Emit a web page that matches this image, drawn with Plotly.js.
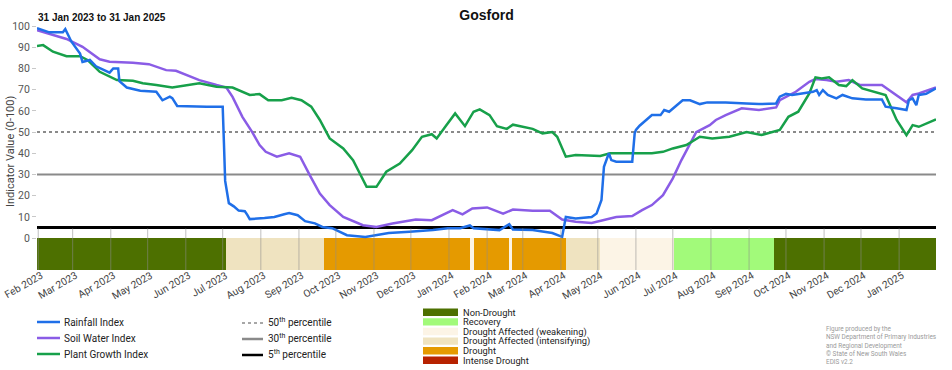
<!DOCTYPE html>
<html>
<head>
<meta charset="utf-8">
<script src="https://cdn.plot.ly/plotly-3.0.1.min.js"></script>
<style>html,body{margin:0;padding:0;background:#fff;}#chart{width:952px;height:370px;}</style>
</head>
<body>
<div id="chart"></div>
<script>
// ---------- DATA ----------
const tickDates = ['2023-02-01','2023-03-01','2023-04-01','2023-05-01','2023-06-01','2023-07-01','2023-08-01','2023-09-01','2023-10-01','2023-11-01','2023-12-01','2024-01-01','2024-02-01','2024-03-01','2024-04-01','2024-05-01','2024-06-01','2024-07-01','2024-08-01','2024-09-01','2024-10-01','2024-11-01','2024-12-01','2025-01-01'];
const tickLabels = ['Feb 2023','Mar 2023','Apr 2023','May 2023','Jun 2023','Jul 2023','Aug 2023','Sep 2023','Oct 2023','Nov 2023','Dec 2023','Jan 2024','Feb 2024','Mar 2024','Apr 2024','May 2024','Jun 2024','Jul 2024','Aug 2024','Sep 2024','Oct 2024','Nov 2024','Dec 2024','Jan 2025'];

const rainDates = ['2023-01-31','2023-02-10','2023-02-21','2023-02-23','2023-02-28','2023-03-07','2023-03-09','2023-03-15','2023-03-20','2023-03-31','2023-04-03','2023-04-07','2023-04-08','2023-04-14','2023-04-25','2023-05-08','2023-05-13','2023-05-19','2023-05-21','2023-05-25','2023-06-18','2023-07-01','2023-07-02','2023-07-03','2023-07-06','2023-07-10','2023-07-14','2023-07-19','2023-07-21','2023-07-23','2023-08-04','2023-08-12','2023-08-20','2023-08-24','2023-08-31','2023-09-03','2023-09-06','2023-09-14','2023-09-20','2023-09-28','2023-10-10','2023-10-25','2023-11-03','2023-11-13','2023-11-30','2023-12-19','2023-12-31','2024-01-10','2024-01-18','2024-01-21','2024-02-11','2024-02-19','2024-02-22','2024-03-09','2024-03-25','2024-04-02','2024-04-05','2024-04-13','2024-04-26','2024-04-30','2024-05-04','2024-05-06','2024-05-10','2024-05-12','2024-05-16','2024-05-29','2024-05-31','2024-06-01','2024-06-04','2024-06-14','2024-06-21','2024-06-24','2024-06-28','2024-07-09','2024-07-15','2024-07-23','2024-07-29','2024-08-13','2024-08-30','2024-09-09','2024-09-23','2024-09-26','2024-10-01','2024-10-06','2024-10-14','2024-10-23','2024-10-26','2024-10-28','2024-10-31','2024-11-04','2024-11-11','2024-11-16','2024-11-24','2024-12-05','2024-12-18','2024-12-21','2024-12-30','2025-01-07','2025-01-09','2025-01-12','2025-01-15','2025-01-17','2025-01-23','2025-01-31'];
const rainValues = [99,97,97,98.5,92.6,87,83,84,81,78,80,80,74,71,69.5,69,65,66.7,66,62.3,62,62,45,27,16.5,15,13,12.7,11,9,9.5,10,11.3,11.8,10.8,9.4,8,7,5.3,4.7,1.4,0.6,1.4,2.4,3,3.8,4.7,4.7,6,4.7,3.8,6.6,4.1,3.8,2.4,0.6,10,9.3,10,11.6,18,33.6,40,36.8,36,36,49.4,51,53,58,58,60.4,59.6,65,65,63.2,64,64,63.5,63.2,63.5,66.7,68,67.5,68.2,69,69.8,67.5,69.8,67.5,65.9,67.5,65.9,65.4,65.4,62,61.2,60.4,65,65.9,62.7,67.5,68,70.6];

const soilDates = ['2023-01-31','2023-02-24','2023-03-09','2023-03-23','2023-03-31','2023-04-19','2023-05-02','2023-05-16','2023-05-24','2023-06-12','2023-06-26','2023-07-04','2023-07-09','2023-07-17','2023-07-25','2023-07-31','2023-08-05','2023-08-14','2023-08-24','2023-09-02','2023-09-10','2023-09-18','2023-09-26','2023-10-07','2023-10-23','2023-11-03','2023-11-16','2023-12-05','2023-12-18','2024-01-04','2024-01-12','2024-01-20','2024-02-01','2024-02-14','2024-02-22','2024-03-09','2024-03-23','2024-04-02','2024-04-13','2024-04-26','2024-05-16','2024-05-29','2024-06-06','2024-06-14','2024-06-23','2024-07-01','2024-07-08','2024-07-20','2024-07-31','2024-08-05','2024-08-13','2024-08-26','2024-09-09','2024-09-23','2024-09-26','2024-10-01','2024-10-09','2024-10-20','2024-10-25','2024-11-03','2024-11-11','2024-11-21','2024-11-30','2024-12-18','2024-12-30','2025-01-07','2025-01-12','2025-01-17','2025-01-31'];
const soilValues = [98,93.9,90.2,84.3,83.2,82.7,82,79.2,78.9,74.5,72.2,71,66.6,57.2,50,43.9,40.7,38.4,40,38.4,29.5,21,15.6,10,6.1,5.3,6.9,8.8,8.5,13.2,11.2,14,14.5,11.6,13.5,12.9,12.9,8.8,7.7,7.2,10,10.4,13.2,15.6,20.3,28.2,36.8,50,53.3,55.7,58,61.2,60.4,61.6,65,66.6,69,73.7,75,74.5,73.7,74.5,72.2,72.2,67.5,64,67.5,68.2,71];

const plantDates = ['2023-01-31','2023-02-05','2023-02-13','2023-02-24','2023-03-07','2023-03-13','2023-03-23','2023-03-31','2023-04-06','2023-04-19','2023-04-27','2023-05-08','2023-05-21','2023-06-12','2023-06-26','2023-07-09','2023-07-23','2023-07-31','2023-08-07','2023-08-18','2023-08-26','2023-09-03','2023-09-11','2023-09-18','2023-09-26','2023-10-07','2023-10-15','2023-10-26','2023-11-03','2023-11-11','2023-11-22','2023-12-02','2023-12-10','2023-12-18','2023-12-22','2023-12-30','2024-01-06','2024-01-14','2024-01-21','2024-01-26','2024-02-03','2024-02-09','2024-02-17','2024-02-22','2024-03-09','2024-03-17','2024-03-25','2024-03-29','2024-04-05','2024-04-13','2024-05-03','2024-05-11','2024-05-29','2024-06-04','2024-06-14','2024-06-23','2024-07-01','2024-07-12','2024-07-23','2024-08-02','2024-08-16','2024-08-30','2024-09-11','2024-09-26','2024-10-03','2024-10-11','2024-10-20','2024-10-25','2024-10-30','2024-11-05','2024-11-13','2024-11-19','2024-11-24','2024-12-02','2024-12-18','2024-12-21','2024-12-30','2025-01-07','2025-01-12','2025-01-17','2025-01-31'];
const plantValues = [90.6,91,87.9,85.8,85.8,84,78.4,76,74.5,74.2,73,72.2,71,73,71.4,71,67.5,67.9,65,65,66.2,65,62,55.7,47,42.3,36.8,24.2,24.2,31.3,35.2,41.5,47.8,49,47,53.3,58.8,52.8,59.6,60.7,58,52.8,51.5,53.5,51.5,49.4,50,47.8,38.4,39.2,38.7,40,40,40,40,40.7,42.3,43.9,47.8,47,47.8,50,48.6,51,57.2,59.6,68.2,75.8,75.3,75.8,72.2,71.7,74.5,70.6,67.9,67.5,55.7,48.6,53.3,52.5,56];

const statusStart = ['2023-01-31','2023-07-04','2023-09-21','2024-01-18','2024-01-21','2024-02-19','2024-02-21','2024-04-05','2024-05-03','2024-07-02','2024-09-21'];
const statusEnd   = ['2023-07-04','2023-09-21','2024-01-18','2024-01-21','2024-02-19','2024-02-21','2024-04-05','2024-05-03','2024-07-02','2024-09-21','2025-01-31'];
const statusCat   = ['Non-Drought','Drought Affected (intensifying)','Drought','Drought Affected (weakening)','Drought','Drought Affected (weakening)','Drought','Drought Affected (intensifying)','Drought Affected (weakening)','Recovery','Non-Drought'];

const categoryNames = ['Non-Drought','Recovery','Drought Affected (weakening)','Drought Affected (intensifying)','Drought','Intense Drought'];
const percentileValues = [50,30,5];

// ---------- STYLE ----------
const catColors = {
  'Non-Drought':'#4d7000',
  'Recovery':'#a2fa7a',
  'Drought Affected (weakening)':'#fcf4e6',
  'Drought Affected (intensifying)':'#efe3c0',
  'Drought':'#e59a00',
  'Intense Drought':'#b72200'
};
const BLUE='#1f6fe8', PURPLE='#8a5ce6', GREEN='#17a04a';
const W=952,H=370,L=37,R=16,T=26,B=100;
const PW=W-L-R, PH=H-T-B;
const px=(x)=>(x-L)/PW, py=(y)=>(H-B-y)/PH;
const FONT='Roboto, "Liberation Sans", Arial, sans-serif';
const HFONT='"Liberation Sans", Arial, sans-serif';

const BAR_BASE=-15;
const mids=statusStart.map((s,i)=>(Date.parse(s)+Date.parse(statusEnd[i]))/2);
const widths=statusStart.map((s,i)=>Date.parse(statusEnd[i])-Date.parse(s));

const traces=[
  {type:'bar',x:mids,y:statusStart.map(()=>-BAR_BASE),base:BAR_BASE,width:widths,
   marker:{color:statusCat.map(c=>catColors[c]),line:{width:0}},hoverinfo:'skip'},
  {type:'scatter',mode:'lines',x:soilDates,y:soilValues,line:{color:PURPLE,width:2.5}},
  {type:'scatter',mode:'lines',x:plantDates,y:plantValues,line:{color:GREEN,width:2.5}},
  {type:'scatter',mode:'lines',x:rainDates,y:rainValues,line:{color:BLUE,width:2.5,shape:'linear'}}
];

const shapes=[];
const pStyles=[{color:'#8a8a8a',width:2,dash:'dot'},{color:'#8a8a8a',width:2,dash:'solid'},{color:'#000',width:3,dash:'solid'}];
percentileValues.forEach((v,i)=>shapes.push({type:'line',xref:'paper',yref:'y',x0:0,x1:1,y0:v,y1:v,line:pStyles[i],layer:'below'}));
tickDates.forEach(d=>shapes.push({type:'line',xref:'x',yref:'y',x0:d,x1:d,y0:BAR_BASE,y1:4.6,line:{color:'rgba(140,140,140,0.55)',width:1},layer:'above'}));

const anns=[];
function ann(x,y,text,size,color,bold,family){
  anns.push({xref:'paper',yref:'paper',x:px(x),y:py(y),xanchor:'left',yanchor:'middle',showarrow:false,
    text:bold?'<b>'+text+'</b>':text,font:{family:family||FONT,size:size,color:color},align:'left'});
}
// subtitle
ann(36,18,'31 Jan 2023 to 31 Jan 2025',10,'#111',true,HFONT);
// y title
anns.push({xref:'paper',yref:'paper',x:px(10),y:py(152),xanchor:'center',yanchor:'middle',textangle:-90,showarrow:false,
  text:'Indicator Value (0-100)',font:{family:FONT,size:11,color:'#444'}});

// legend col1
const seriesLeg=[['Rainfall Index',BLUE],['Soil Water Index',PURPLE],['Plant Growth Index',GREEN]];
seriesLeg.forEach((s,i)=>{
  const y=322+i*16;
  shapes.push({type:'line',xref:'paper',yref:'paper',x0:px(37),x1:px(60),y0:py(y),y1:py(y),line:{color:s[1],width:2.5}});
  ann(62,y,s[0],10,'#222');
});
// legend col2
const pctLeg=['50<sup>th</sup> percentile','30<sup>th</sup> percentile','5<sup>th</sup> percentile'];
pctLeg.forEach((t,i)=>{
  const y=323+i*16;
  shapes.push({type:'line',xref:'paper',yref:'paper',x0:px(242),x1:px(263),y0:py(y),y1:py(y),line:pStyles[i].dash==='dot'?{color:'#8a8a8a',width:1.5,dash:'dot'}:{color:pStyles[i].color,width:2.5}});
  ann(266,y-1,t,10,'#222');
});
// legend col3
categoryNames.forEach((c,i)=>{
  const y=312.3+i*9.6;
  shapes.push({type:'rect',xref:'paper',yref:'paper',x0:px(423),x1:px(458),y0:py(y-3.7),y1:py(y+3.7),fillcolor:catColors[c],line:{width:0}});
  ann(461,y,c,9.3,'#222');
});
// credit
anns.push({xref:'paper',yref:'paper',x:px(824),y:py(322.5),xanchor:'left',yanchor:'top',showarrow:false,align:'left',
  text:'Figure produced by the<br>NSW Department of Primary Industries<br>and Regional Development<br>© State of New South Wales<br>EDIS v2.2',
  font:{family:FONT,size:6.4,color:'#9a9a9a'}});

const layout={
  width:W,height:H,margin:{l:L,r:R,t:T,b:B},
  paper_bgcolor:'#fff',plot_bgcolor:'#fff',showlegend:false,
  title:{text:'<b>Gosford</b>',x:0.5,xref:'paper',xanchor:'center',y:1-15/H,yref:'container',yanchor:'middle',
    font:{family:HFONT,size:14,color:'#111'}},
  xaxis:{type:'date',range:['2023-01-31','2025-01-31'],tickvals:tickDates,ticktext:tickLabels,tickangle:-30,
    ticklabeloverflow:'allow',automargin:false,ticklabelstandoff:-3,ticklabelshift:3,
    showgrid:false,zeroline:false,showline:false,ticks:'',tickfont:{family:FONT,size:10.2,color:'#444'}},
  yaxis:{range:[BAR_BASE,100],tickvals:[0,10,20,30,40,50,60,70,80,90,100],showgrid:false,zeroline:false,showline:false,
    ticks:'outside',ticklen:4,tickcolor:'#c8c8c8',tickfont:{family:FONT,size:10.5,color:'#555'}},
  shapes:shapes,annotations:anns,bargap:0
};
Plotly.newPlot('chart',traces,layout,{staticPlot:true,displayModeBar:false});
</script>
</body>
</html>
